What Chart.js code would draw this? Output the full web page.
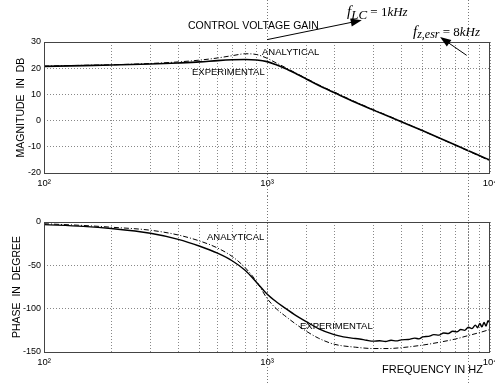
<!DOCTYPE html>
<html>
<head>
<meta charset="utf-8">
<script src="https://cdn.jsdelivr.net/npm/chart.js@4.4.1/dist/chart.umd.min.js"></script>
<style>
  html, body { margin: 0; padding: 0; background: #fff; overflow: hidden; width: 495px; height: 383px; }
  #wrap { position: relative; width: 495px; height: 383px; overflow: hidden; }
  canvas { position: absolute; left: 0; }
</style>
</head>
<body>
<div id="wrap">
  <canvas id="mag" width="510" height="196" style="top:0"></canvas>
  <canvas id="phase" width="510" height="187" style="top:196px"></canvas>
</div>
<script>
// magnitude, dB
const magFreq = [100, 150, 200, 300, 400, 500, 600, 700, 800, 900, 1000, 1100, 1200, 1350, 1500, 1700, 2000, 2500, 3000, 4000, 5000, 6000, 7000, 8000, 9000, 10000];
const magExperimental = [20.7, 21.0, 21.2, 21.6, 22.0, 22.4, 22.9, 23.2, 23.3, 23.1, 22.5, 21.3, 20.0, 17.9, 15.9, 13.5, 10.7, 6.9, 4.0, -0.4, -3.9, -6.8, -9.3, -11.5, -13.4, -15.1];
const magAnalytical = [20.8, 21.1, 21.3, 21.8, 22.4, 23.1, 23.9, 24.8, 25.5, 25.2, 23.8, 22.0, 20.4, 18.1, 16.1, 13.7, 10.9, 7.1, 4.2, -0.3, -3.9, -6.9, -9.4, -11.6, -13.6, -15.4];

// phase, degrees
const phaseFreq = [100, 150, 200, 300, 400, 500, 600, 700, 800, 900, 1000, 1100, 1200, 1350, 1500, 1700, 2000, 2500, 3000, 3500, 4000, 5000, 6000, 7000, 8000, 9000, 10000];
const phaseAnalytical = [-2, -4, -6, -9.5, -15, -22, -30, -40, -53, -69, -88, -100, -108, -118, -126, -134, -141, -144.5, -146, -146, -145, -142, -138.5, -135, -131, -127.5, -124];
const phaseExpFreq = [100, 150, 200, 300, 400, 500, 600, 700, 800, 900, 1000, 1100, 1200, 1350, 1500, 1700, 2000, 2200, 2400, 2600, 2800, 3000, 3200, 3400, 3600, 3800, 4000, 4300, 4600, 4800, 5000, 5300, 5600, 5900, 6200, 6500, 6800, 7100, 7400, 7700, 8000, 8300, 8600, 8800, 9000, 9200, 9400, 9600, 9800, 10000];
const phaseExperimental = [-3, -5, -7.5, -13, -20, -28, -36, -45, -56, -70, -83, -92, -99, -108, -115, -123, -130, -132.5, -134, -135, -136.5, -137.5, -137, -137.8, -136.5, -137.2, -136, -135.5, -134, -134.8, -132.5, -132, -130, -130.5, -128, -128.6, -126, -126.8, -124, -125, -121.5, -123, -119, -122, -117, -121, -116, -120, -114, -117];

const magTicks = [30, 20, 10, 0, -10, -20];
const phaseTicks = [0, -50, -100, -150];
const decadeValues = [100, 1000, 10000];
const decadeLabels = ['10²', '10³', '10⁴'];
const markerFreqs = [1000, 8000];

const SANS = "'Liberation Sans', Arial, sans-serif";
const SERIF = "'Liberation Serif', 'Times New Roman', serif";

const toXY = (xs, ys) => xs.map((x, i) => ({ x: x, y: ys[i] }));

const sketchPlugin = {
  id: 'sketch',
  afterDraw(chart, args, opts) {
    const { ctx, chartArea: a } = chart;
    const sx = chart.scales.x, sy = chart.scales.y;
    const px = (f) => sx.getPixelForValue(f);
    const py = (v) => sy.getPixelForValue(v);
    ctx.save();

    // dotted marker lines at f_LC and f_z,esr run across the whole figure
    ctx.strokeStyle = '#777';
    ctx.lineWidth = 1;
    ctx.setLineDash([1, 2]);
    markerFreqs.forEach(f => {
      const x = Math.round(px(f)) + 0.5;
      ctx.beginPath();
      ctx.moveTo(x, 0);
      ctx.lineTo(x, chart.height);
      ctx.stroke();
    });

    // box
    ctx.setLineDash([]);
    ctx.strokeStyle = '#444';
    ctx.strokeRect(Math.round(a.left) + 0.5, Math.round(a.top) + 0.5,
      Math.round(a.right - a.left) - 1, Math.round(a.bottom - a.top));

    ctx.fillStyle = '#000';
    ctx.textBaseline = 'middle';
    ctx.textAlign = 'left';
    (opts.labels || []).forEach(l => {
      ctx.font = l.font || ('9.5px ' + SANS);
      ctx.fillText(l.text, px(l.f), py(l.v));
    });

    (opts.arrows || []).forEach(ar => {
      const x1 = px(ar.from[0]), y1 = py(ar.from[1]);
      const x2 = px(ar.to[0]), y2 = py(ar.to[1]);
      const ang = Math.atan2(y2 - y1, x2 - x1);
      ctx.strokeStyle = '#000';
      ctx.lineWidth = 1;
      ctx.beginPath();
      ctx.moveTo(x1, y1);
      ctx.lineTo(x2 - 8 * Math.cos(ang), y2 - 8 * Math.sin(ang));
      ctx.stroke();
      ctx.beginPath();
      ctx.moveTo(x2, y2);
      ctx.lineTo(x2 - 11 * Math.cos(ang) + 4 * Math.sin(ang), y2 - 11 * Math.sin(ang) - 4 * Math.cos(ang));
      ctx.lineTo(x2 - 11 * Math.cos(ang) - 4 * Math.sin(ang), y2 - 11 * Math.sin(ang) + 4 * Math.cos(ang));
      ctx.closePath();
      ctx.fill();
    });

    (opts.rich || []).forEach(r => {
      let x = px(r.f);
      const y = py(r.v);
      r.parts.forEach(p => {
        ctx.font = p.font;
        ctx.fillText(p.t, x, y + (p.dy || 0));
        x += ctx.measureText(p.t).width;
      });
    });

    ctx.restore();
  }
};

function makeChart(id, datasets, yTicks, yTitle, titlePad, padTop, xHeight, extras) {
  return new Chart(document.getElementById(id), {
    type: 'line',
    data: { datasets: datasets },
    options: {
      responsive: false,
      animation: false,
      parsing: false,
      layout: { padding: { left: 0, right: 20, top: padTop, bottom: 0 } },
      plugins: { legend: { display: false }, tooltip: { enabled: false }, sketch: extras },
      elements: { point: { radius: 0 }, line: { cubicInterpolationMode: 'monotone' } },
      scales: {
        x: {
          type: 'logarithmic',
          min: 100,
          max: 10000,
          afterFit: (s) => { s.height = xHeight; },
          grid: { color: '#888', drawTicks: false },
          border: { display: false, dash: [1, 2] },
          ticks: {
            autoSkip: false,
            maxRotation: 0,
            padding: 5,
            color: '#000',
            font: { family: SANS, size: 9.5 },
            callback: (v) => {
              const i = decadeValues.indexOf(Math.round(v));
              return i >= 0 ? decadeLabels[i] : '';
            }
          }
        },
        y: {
          type: 'linear',
          min: yTicks[yTicks.length - 1],
          max: yTicks[0],
          afterFit: (s) => { s.width = 44; },
          afterBuildTicks: (s) => { s.ticks = yTicks.map(v => ({ value: v })); },
          grid: { color: '#888', drawTicks: false },
          border: { display: false, dash: [1, 2] },
          ticks: { padding: 3, color: '#000', font: { family: SANS, size: 9 } },
          title: {
            display: true,
            text: yTitle,
            color: '#000',
            font: { family: SANS, size: 10.5 },
            padding: { top: titlePad, bottom: 0 }
          }
        }
      }
    },
    plugins: [sketchPlugin]
  });
}

makeChart('mag', [
  { data: toXY(magFreq, magAnalytical), borderColor: '#000', borderWidth: 1, borderDash: [5, 2, 1, 2] },
  { data: toXY(magFreq, magExperimental), borderColor: '#000', borderWidth: 1.6 }
], magTicks, 'MAGNITUDE  IN  DB', 15, 42, 23, {
  labels: [
    { text: 'CONTROL VOLTAGE GAIN', f: 442, v: 36.2, font: '10.5px ' + SANS },
    { text: 'ANALYTICAL', f: 950, v: 26.1 },
    { text: 'EXPERIMENTAL', f: 461, v: 18.4 }
  ],
  arrows: [
    { from: [1000, 30.9], to: [2660, 38.3] },
    { from: [7860, 24.9], to: [5970, 31.9] }
  ],
  rich: [
    { f: 2284, v: 41.3, parts: [
      { t: 'f', font: 'italic 15px ' + SERIF },
      { t: 'LC', font: 'italic 13px ' + SERIF, dy: 3 },
      { t: ' = 1', font: '13px ' + SERIF },
      { t: 'kHz', font: 'italic 13px ' + SERIF }
    ] },
    { f: 4516, v: 33.7, parts: [
      { t: 'f', font: 'italic 15px ' + SERIF },
      { t: 'z,esr', font: 'italic 12px ' + SERIF, dy: 3 },
      { t: ' = 8', font: '13px ' + SERIF },
      { t: 'kHz', font: 'italic 13px ' + SERIF }
    ] }
  ]
});

makeChart('phase', [
  { data: toXY(phaseFreq, phaseAnalytical), borderColor: '#000', borderWidth: 1, borderDash: [5, 2, 1, 2] },
  { data: toXY(phaseExpFreq, phaseExperimental), borderColor: '#000', borderWidth: 1.4 }
], phaseTicks, 'PHASE  IN  DEGREE', 11, 26, 31, {
  labels: [
    { text: 'ANALYTICAL', f: 538, v: -17.3 },
    { text: 'EXPERIMENTAL', f: 1406, v: -121 },
    { text: 'FREQUENCY IN HZ', f: 3280, v: -170.7, font: '11px ' + SANS }
  ]
});
</script>
</body>
</html>
